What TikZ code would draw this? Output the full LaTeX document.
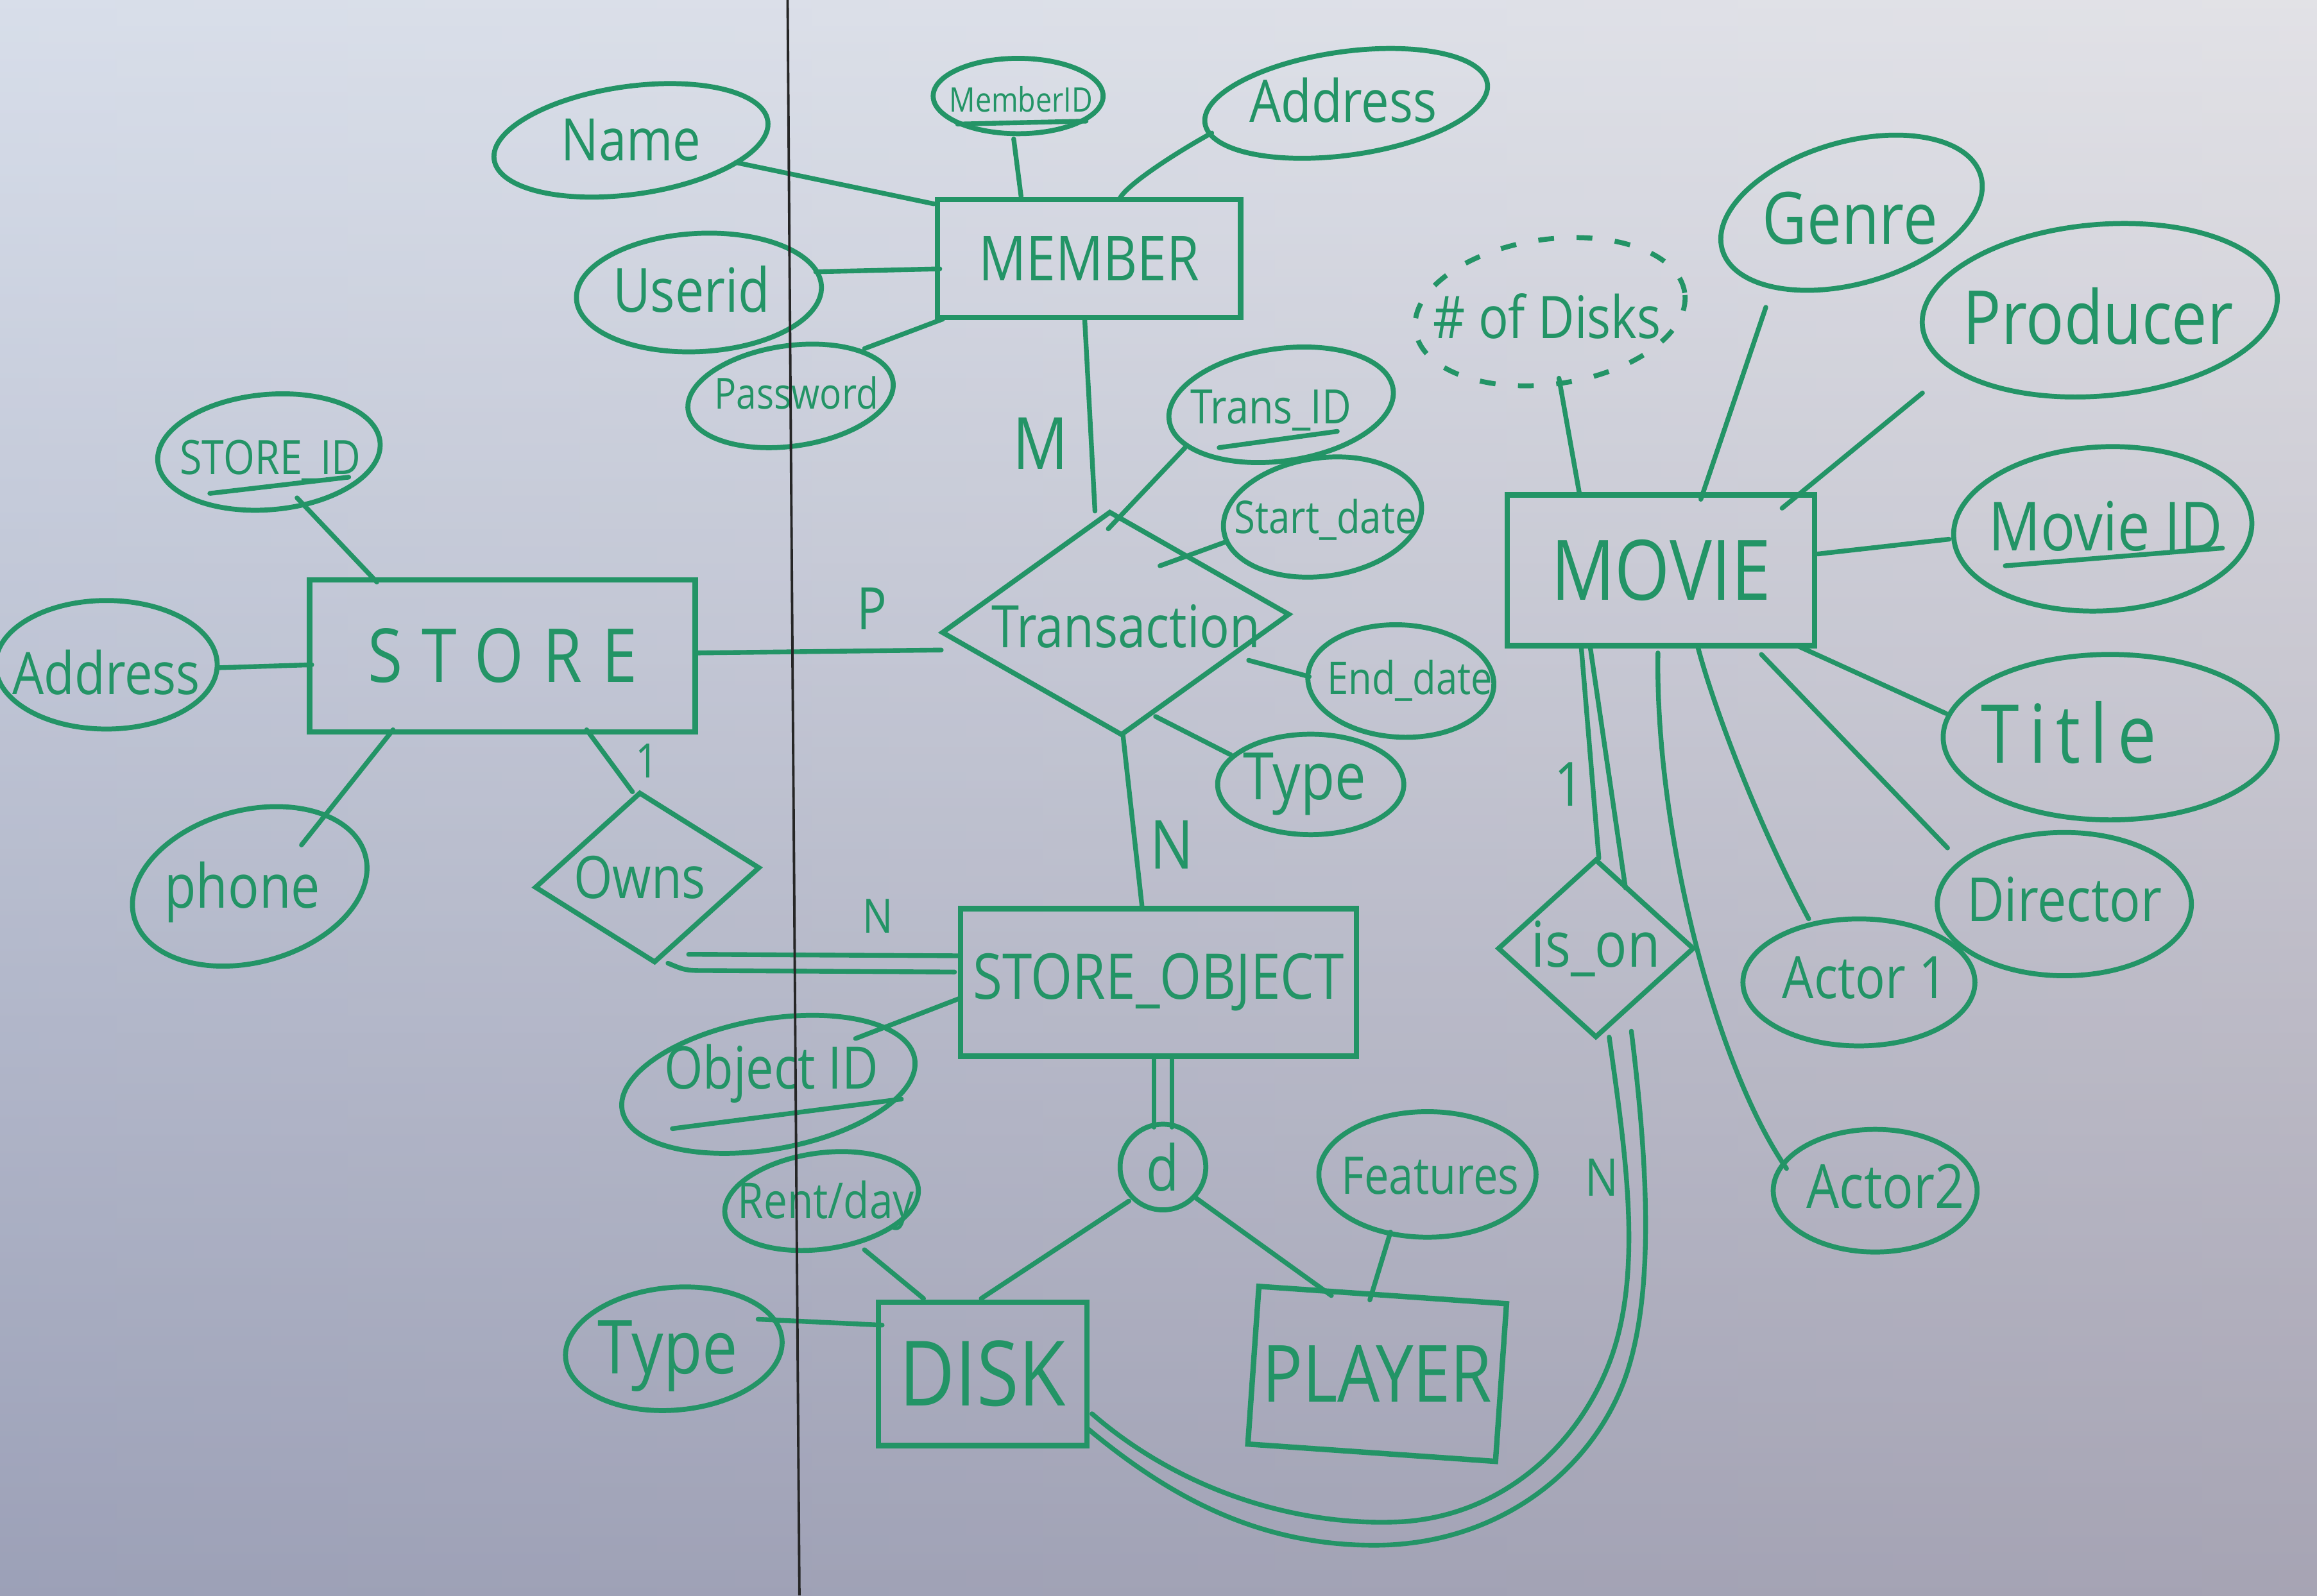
\documentclass[tikz,border=0pt]{standalone}
\usepackage{fontspec}
\newfontfamily\hand{Open Sans}[FakeStretch=0.85]
\usetikzlibrary{shapes.geometric,calc}
\definecolor{mk}{RGB}{35,148,102}
\definecolor{bgtop}{RGB}{238,240,243}
\definecolor{bgmid}{RGB}{212,214,224}
\definecolor{bgbot}{RGB}{146,145,165}
\definecolor{bgleft}{RGB}{175,190,218}
\definecolor{bgright}{RGB}{205,200,208}
\newdimen\pxu \pxu=0.02303cm
\newcommand\hf[1]{\hand\fontsize{#1}{#1}\selectfont}
\newcommand\zb[1]{\makebox[0pt]{#1}}
\begin{document}
\begin{tikzpicture}[x=0.02303cm,y=-0.02303cm,
  ln/.style={draw=mk,line width=2.1pt,line cap=round},
  sz/.style 2 args={minimum width=#1*\pxu,minimum height=#2*\pxu},
  ent/.style={rectangle,draw=mk,line width=2.4pt,text=mk,inner sep=0pt},
  att/.style={ellipse,draw=mk,line width=2.2pt,text=mk,inner sep=0pt},
  rel/.style={diamond,draw=mk,line width=2.2pt,text=mk,inner sep=0pt},
  tx/.style={text=mk,inner sep=0pt},
  lbl/.style={text=mk,inner sep=0pt}]
\useasboundingbox (0,0) rectangle (1568,1080);
\shade[top color=bgtop,middle color=bgmid,bottom color=bgbot] (0,0) rectangle (1568,1080);
\shade[left color=bgleft,middle color=white,right color=bgright,opacity=0.35] (0,0) rectangle (1568,1080);

% entities
\node[ent,sz={205}{80},font=\hf{27.5}] (MEMBER) at (737,175) {\zb{MEMBER}};
\node[ent,sz={261}{103},font=\hf{33}\addfontfeature{LetterSpace=26}] (STORE) at (340,444) {\zb{STORE}};
\node[ent,sz={208}{102},font=\hf{37}] (MOVIE) at (1124,386) {\zb{MOVIE}};
\node[ent,sz={268}{100},font=\hf{28}] (SO) at (784,665) {\zb{STORE\_OBJECT}};
\node[ent,sz={141}{97},font=\hf{40}] (DISK) at (665,930) {\zb{DISK}};
\node[ent,sz={168}{107},rotate=-4] (PLAYER) at (932,930) {};
\node[tx,font=\hf{35}] (PLAYERt) at (PLAYER) {PLAYER};

% relationships
\node[rel,sz={236}{152},rotate=3] (TR) at (755,422) {};
\node[tx,font=\hf{26}] (TRt) at (762,424) {Transaction};
\node[rel,sz={153}{116},rotate=5] (OWNS) at (438,594) {};
\node[tx,font=\hf{26}] (OWNSt) at (433,594) {Owns};
\node[rel,sz={133}{121},font=\hf{28}] (ISON) at (1080,642) {\zb{is\_on}};
\node[circle,draw=mk,line width=2.2pt,text=mk,inner sep=0pt,minimum size=58*\pxu,font=\hf{28}] (D) at (787,790) {\zb{d}};

% attributes (shapes)
\node[att,sz={187}{73},rotate=8] (NAME) at (427,95) {};
\node[att,sz={115}{51}] (MID) at (689,65) {};
\node[att,sz={193}{70},rotate=8] (ADDM) at (911,70) {};
\node[att,sz={166}{80},rotate=3] (UID) at (473,198) {};
\node[att,sz={140}{68},rotate=8] (PWD) at (535,268) {};
\node[att,sz={153}{76},rotate=8] (TID) at (867,274) {};
\node[att,sz={135}{80},rotate=8] (SD) at (895,350) {};
\node[att,sz={126}{76},rotate=-3] (ED) at (948,461) {};
\node[att,sz={126}{68}] (TYT) at (887,531) {};
\node[att,sz={151}{78},rotate=5] (SID) at (182,306) {};
\node[att,sz={150}{87}] (ADDS) at (72,450) {};
\node[att,sz={162}{103},rotate=15] (PH) at (169,600) {};
\node[att,sz={184}{98},rotate=8,dash pattern=on 7pt off 10pt] (ND) at (1049,211) {};
\node[att,sz={182}{96},rotate=16] (GEN) at (1253,144) {};
\node[att,sz={241}{116},rotate=5] (PROD) at (1421,210) {};
\node[att,sz={202}{111},rotate=3] (MVID) at (1423,358) {};
\node[att,sz={226}{112}] (TITLE) at (1428,499) {};
\node[att,sz={172}{97}] (DIR) at (1397,612) {};
\node[att,sz={157}{86}] (A1) at (1258,665) {};
\node[att,sz={138}{83}] (A2) at (1269,806) {};
\node[att,sz={201}{88},rotate=10] (OID) at (520,734) {};
\node[att,sz={132}{65},rotate=8] (RD) at (556,813) {};
\node[att,sz={147}{85}] (FEAT) at (966,795) {};
\node[att,sz={147}{83},rotate=5] (TYD) at (456,913) {};

% attribute texts
\node[tx,font=\hf{26}] (NAMEt) at (NAME) {Name};
\node[tx,font=\hf{15}] (MIDt) at (691,67) {MemberID};
\node[tx,font=\hf{26}] (ADDMt) at (909,68) {Address};
\node[tx,font=\hf{27}] (UIDt) at (468,196) {Userid};
\node[tx,font=\hf{19}] (PWDt) at (539,266) {Password};
\node[tx,font=\hf{21}] (TIDt) at (860,278) {Trans\_ID};
\node[tx,font=\hf{20}] (SDt) at (897,352) {Start\_date};
\node[tx,font=\hf{20}] (EDt) at (954,461) {End\_date};
\node[tx,font=\hf{29}] (TYTt) at (883,531) {Type};
\node[tx,font=\hf{21}] (SIDt) at (183,312) {STORE\_ID};
\node[tx,font=\hf{26}] (ADDSt) at (72,455) {Address};
\node[tx,font=\hf{27}] (PHt) at (164,604) {phone};
\node[tx,font=\hf{26}] (NDt) at (1047,214) {\# of Disks};
\node[tx,font=\hf{32}] (GENt) at (1252,148) {Genre};
\node[tx,font=\hf{33}] (PRODt) at (1420,214) {Producer};
\node[tx,font=\hf{30}] (MVIDt) at (1425,356) {Movie ID};
\node[tx,font=\hf{36}\addfontfeature{LetterSpace=12}] (TITLEt) at (1400,496) {Title};
\node[tx,font=\hf{27}] (DIRt) at (1397,609) {Director};
\node[tx,font=\hf{26}] (A1t) at (1262,662) {Actor 1};
\node[tx,font=\hf{27}] (A2t) at (1276,803) {Actor2};
\node[tx,font=\hf{26}] (OIDt) at (522,727) {Object ID};
\node[tx,font=\hf{22}] (RDt) at (559,816) {Rent/day};
\node[tx,font=\hf{23}] (FEATt) at (968,796) {Features};
\node[tx,font=\hf{33}] (TYDt) at (452,918) {Type};

% cardinality labels
\node[lbl,font=\hf{32}] (LM) at (704,300) {M};
\node[lbl,font=\hf{26}] (LP) at (590,412) {P};
\node[lbl,font=\hf{30}] (LN1) at (793,572) {N};
\node[lbl,font=\hf{21}] (L11) at (438,515) {1};
\node[lbl,font=\hf{21}] (LN2) at (594,620) {N};
\node[lbl,font=\hf{27}] (L12) at (1062,531) {1};
\node[lbl,font=\hf{23}] (LN3) at (1084,797) {N};

% key underlines
\draw[ln] ($(MID)+(-41,19)$) -- ($(MID)+(46,17)$);
\draw[ln] ($(TID)+(-42,29)$) -- ($(TID)+(38,18)$);
\draw[ln] ($(SID)+(-40,28)$) -- ($(SID)+(54,17)$);
\draw[ln] ($(MVID)+(-66,25)$) -- ($(MVID)+(81,13)$);
\draw[ln] ($(OID)+(-65,30)$) -- ($(OID)+(90,10)$);

% connectors
\draw[ln] ($(NAME)+(71,15)$) -- ($(MEMBER)+(-105,-37)$);
\draw[ln] ($(MID)+(-3,29)$) -- ($(MEMBER)+(-46,-42)$);
\draw[ln] ($(ADDM)+(-91,20)$) .. controls ($(ADDM)+(-118,35)$) and ($(MEMBER)+(26,-50)$) .. ($(MEMBER)+(21,-41)$);
\draw[ln] ($(UID)+(79,-14)$) -- ($(MEMBER)+(-101,7)$);
\draw[ln] ($(PWD)+(50,-32)$) -- ($(MEMBER)+(-99,41)$);
\draw[ln] ($(MEMBER)+(-3,40)$) -- ($(TR)+(-14,-76)$);
\draw[ln] ($(TID)+(-65,29)$) -- ($(TR)+(-5,-64)$);
\draw[ln] ($(SD)+(-66,17)$) -- ($(TR)+(30,-39)$);
\draw[ln] ($(ED)+(-62,-3)$) -- ($(TR)+(90,25)$);
\draw[ln] ($(TYT)+(-54,-20)$) -- ($(TR)+(27,63)$);
\draw[ln] ($(STORE)+(131,-2)$) -- ($(TR)+(-118,18)$);
\draw[ln] ($(TR)+(5,76)$) -- ($(SO)+(-11,-50)$);
\draw[ln] ($(SID)+(19,31)$) -- ($(STORE)+(-85,-50)$);
\draw[ln] ($(ADDS)+(76,2)$) -- ($(STORE)+(-129,6)$);
\draw[ln] ($(PH)+(35,-28)$) -- ($(STORE)+(-74,50)$);
\draw[ln] ($(STORE)+(57,50)$) -- ($(OWNS)+(-10,-58)$);
\draw[ln] ($(OWNS)+(28,52)$) -- ($(SO)+(-135,-18)$);
\draw[ln] ($(OWNS)+(14,58)$) .. controls ($(OWNS)+(26,63)$) .. ($(OWNS)+(42,63)$) -- ($(SO)+(-138,-7)$);
\draw[ln] ($(OID)+(59,-31)$) -- ($(SO)+(-135,11)$);
\draw[ln] ($(SO)+(-3,50)$) -- ($(D)+(-6,-27)$);
\draw[ln] ($(SO)+(9,50)$) -- ($(D)+(6,-27)$);
\draw[ln] ($(D)+(-23,23)$) -- ($(DISK)+(-1,-51)$);
\draw[ln] ($(D)+(21,20)$) -- ($(PLAYER)+(-31,-53)$);
\draw[ln] ($(RD)+(29,33)$) -- ($(DISK)+(-40,-51)$);
\draw[ln] ($(TYD)+(57,-20)$) -- ($(DISK)+(-68,-33)$);
\draw[ln] ($(FEAT)+(-25,39)$) -- ($(PLAYER)+(-5,-50)$);
\draw[ln] ($(ND)+(6,45)$) -- ($(MOVIE)+(-55,-51)$);
\draw[ln] ($(GEN)+(-58,64)$) -- ($(MOVIE)+(27,-48)$);
\draw[ln] ($(PROD)+(-120,56)$) -- ($(MOVIE)+(82,-42)$);
\draw[ln] ($(MVID)+(-104,7)$) -- ($(MOVIE)+(106,-11)$);
\draw[ln] ($(TITLE)+(-111,-16)$) -- ($(MOVIE)+(92,51)$);
\draw[ln] ($(DIR)+(-79,-38)$) -- ($(MOVIE)+(68,57)$);
\draw[ln] ($(A1)+(-34,-43)$) .. controls ($(A1)+(-70,-110)$) and ($(MOVIE)+(35,90)$) .. ($(MOVIE)+(25,52)$);
\draw[ln] ($(A2)+(-60,-15)$) .. controls ($(A2)+(-109,-86)$) and ($(MOVIE)+(-4,174)$) .. ($(MOVIE)+(-2,56)$);
\draw[ln] ($(MOVIE)+(-54,51)$) -- ($(ISON)+(2,-61)$);
\draw[ln] ($(MOVIE)+(-48,51)$) -- ($(ISON)+(20,-41)$);
\draw[ln] ($(ISON)+(9,60)$) .. controls (1100,780) and (1112,860) .. (1090,920)
  .. controls (1070,975) and (1020,1025) .. (950,1030)
  .. controls (880,1034) and (800,1010) .. ($(DISK)+(74,27)$);
\draw[ln] ($(ISON)+(24,56)$) .. controls (1114,780) and (1122,880) .. (1097,940)
  .. controls (1072,1000) and (1010,1046) .. (930,1046)
  .. controls (850,1046) and (790,1012) .. ($(DISK)+(71,37)$);

% whiteboard seam
\draw[black!85,line width=1.1pt] (533,0) -- (541,1080);
\end{tikzpicture}
\end{document}
